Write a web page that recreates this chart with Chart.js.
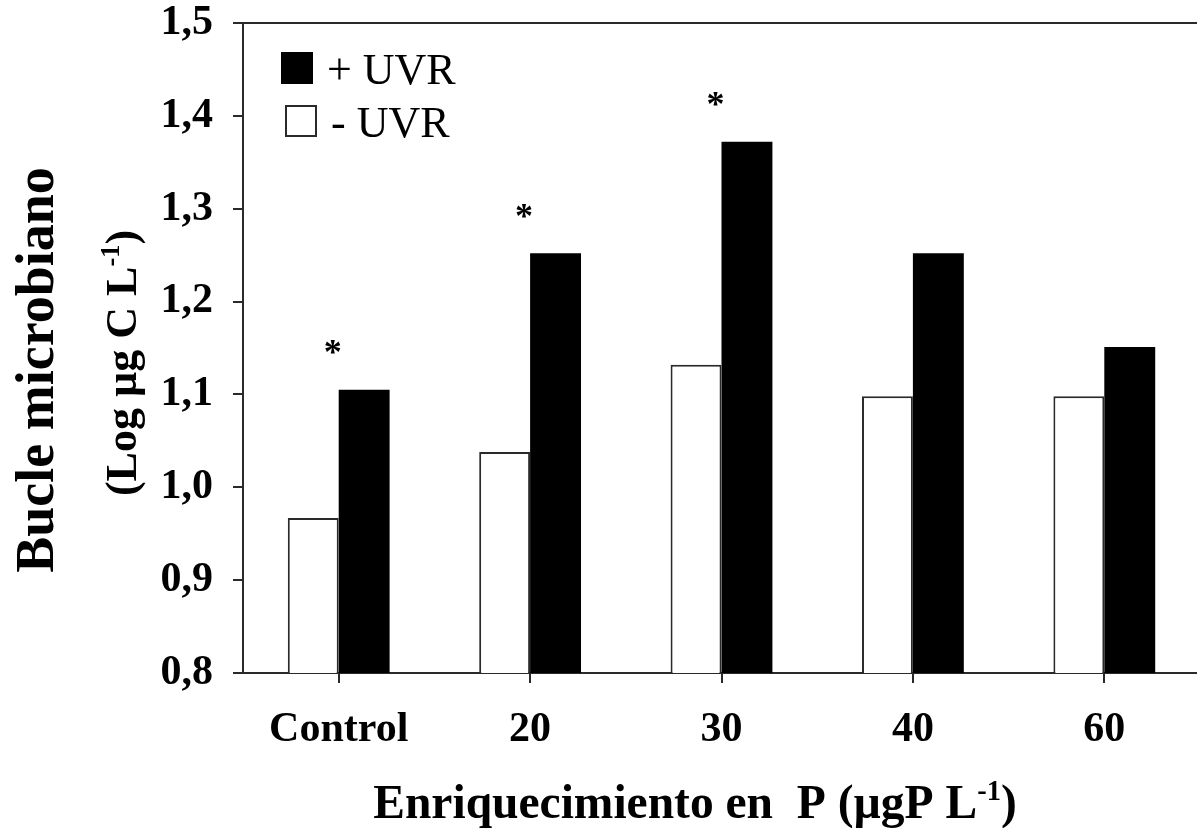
<!DOCTYPE html>
<html>
<head>
<meta charset="utf-8">
<script src="https://cdn.jsdelivr.net/npm/chart.js@4.4.1/dist/chart.umd.min.js"></script>
<style>
  html, body { margin: 0; padding: 0; background: #fff; overflow: hidden; }
  #wrap { position: relative; width: 1200px; height: 828px; }
</style>
</head>
<body>
<div id="wrap"><canvas id="c" width="1200" height="828"></canvas></div>
<script>
// P enrichment treatments (µgP L-1)
const categories = ['Control', '20', '30', '40', '60'];
const seriesLabels = ['- UVR', '+ UVR'];
// Microbial loop carbon, log µg C L-1
const valuesMinusUVR = [0.967, 1.038, 1.132, 1.098, 1.098];
const valuesPlusUVR  = [1.105, 1.252, 1.372, 1.252, 1.151];
// significant UVR effect (asterisk over the pair)
const significant = [true, true, true, false, false];
const yTickValues = [0.8, 0.9, 1.0, 1.1, 1.2, 1.3, 1.4, 1.5];
const yTickLabels = ['0,8', '0,9', '1,0', '1,1', '1,2', '1,3', '1,4', '1,5'];

const SERIF = "'Liberation Serif', 'Times New Roman', Times, serif";
const INK = '#2a2a2a';

// text runs with superscript pieces, drawn left to right
function drawRuns(ctx, runs, x, y, size, weight, align) {
  const widths = runs.map(r => {
    ctx.font = `${weight} ${r.sup ? size * 0.6 : size}px ${SERIF}`;
    return ctx.measureText(r.t).width;
  });
  const total = widths.reduce((a, b) => a + b, 0);
  let cx = align === 'center' ? x - total / 2 : x;
  ctx.textAlign = 'left';
  ctx.textBaseline = 'alphabetic';
  runs.forEach((r, i) => {
    ctx.font = `${weight} ${r.sup ? size * 0.6 : size}px ${SERIF}`;
    ctx.fillText(r.t, cx, r.sup ? y - size * 0.38 : y);
    cx += widths[i];
  });
}

const decorations = {
  id: 'decorations',
  afterDraw(chart) {
    const { ctx, chartArea, scales } = chart;
    const xs = scales.x, ys = scales.y;
    ctx.save();

    // upper frame line
    ctx.strokeStyle = INK;
    ctx.lineWidth = 2;
    ctx.beginPath();
    ctx.moveTo(chartArea.left, chartArea.top);
    ctx.lineTo(chartArea.right, chartArea.top);
    ctx.stroke();

    // significance asterisks
    ctx.fillStyle = '#000';
    ctx.font = `bold 36px ${SERIF}`;
    const m = ctx.measureText('*');
    const mid = (m.actualBoundingBoxAscent - m.actualBoundingBoxDescent) / 2;
    ctx.textAlign = 'center';
    ctx.textBaseline = 'alphabetic';
    significant.forEach((s, i) => {
      if (!s) return;
      const px = xs.getPixelForValue(i) - 6;
      const py = ys.getPixelForValue(valuesPlusUVR[i] + 0.046);
      ctx.fillText('*', px, py + mid);
    });

    // legend: filled series first
    const rows = chart.data.datasets.slice().reverse();
    const bx = chartArea.left + 38, by = chartArea.top + 29, box = 32, gap = 53;
    rows.forEach((ds, r) => {
      const top = by + r * gap;
      ctx.fillStyle = ds.backgroundColor;
      ctx.fillRect(bx + r * 4, top, box, box);
      if (ds.borderWidth) {
        ctx.strokeStyle = ds.borderColor;
        ctx.lineWidth = 2;
        ctx.strokeRect(bx + r * 4 + 1, top + 1, box - 2, box - 2);
      }
      ctx.fillStyle = '#000';
      ctx.font = `normal 44px ${SERIF}`;
      ctx.textAlign = 'left';
      ctx.textBaseline = 'alphabetic';
      ctx.fillText(ds.label, bx + r * 4 + box + 14, top + box);
    });

    // x axis title
    ctx.fillStyle = '#000';
    drawRuns(ctx, [{ t: 'Enriquecimiento en  P (µgP L' }, { t: '-1', sup: true }, { t: ')' }],
      695, 818, 47.5, 'bold', 'center');

    // y axis title, two lines
    ctx.save();
    ctx.translate(53, 370);
    ctx.rotate(-Math.PI / 2);
    drawRuns(ctx, [{ t: 'Bucle microbiano' }], 0, 0, 54, 'bold', 'center');
    ctx.restore();
    ctx.save();
    ctx.translate(136, 363);
    ctx.rotate(-Math.PI / 2);
    drawRuns(ctx, [{ t: '(Log µg C L' }, { t: '-1', sup: true }, { t: ')' }], 0, 0, 44, 'bold', 'center');
    ctx.restore();

    ctx.restore();
  }
};

new Chart(document.getElementById('c'), {
  type: 'bar',
  data: {
    labels: categories,
    datasets: [
      {
        label: seriesLabels[0],
        data: valuesMinusUVR,
        backgroundColor: '#ffffff',
        borderColor: INK,
        borderWidth: 2,
        borderSkipped: 'start'
      },
      {
        label: seriesLabels[1],
        data: valuesPlusUVR,
        backgroundColor: '#000000',
        borderWidth: 0
      }
    ]
  },
  options: {
    responsive: false,
    animation: false,
    devicePixelRatio: 1,
    layout: { padding: { top: 23, left: 0, right: 0, bottom: 0 } },
    datasets: { bar: { barPercentage: 1, categoryPercentage: 0.532 } },
    plugins: { legend: { display: false }, tooltip: { enabled: false } },
    scales: {
      x: {
        type: 'category',
        offset: true,
        grid: { offset: false, drawOnChartArea: false, drawTicks: true, tickLength: 10, color: INK, lineWidth: 2 },
        border: { display: true, color: INK, width: 2 },
        ticks: {
          color: '#000',
          font: { family: SERIF, size: 42, weight: 'bold', lineHeight: 1.2 },
          padding: 22, maxRotation: 0, autoSkip: false
        },
        afterFit(s) { s.height = 155; s.paddingLeft = 0; s.paddingRight = 0; }
      },
      y: {
        min: 0.8,
        max: 1.5,
        grid: { drawOnChartArea: false, drawTicks: true, tickLength: 10, color: INK, lineWidth: 2 },
        border: { display: true, color: INK, width: 2 },
        ticks: {
          stepSize: 0.1,
          color: '#000',
          padding: 20,
          font: { family: SERIF, size: 42, weight: 'bold', lineHeight: 1.0 },
          callback(v) {
            const i = yTickValues.findIndex(t => Math.abs(t - v) < 1e-6);
            return i >= 0 ? yTickLabels[i] : '';
          }
        },
        afterFit(s) { s.width = 243; s.paddingTop = 0; s.paddingBottom = 0; }
      }
    }
  },
  plugins: [decorations]
});
</script>
</body>
</html>
